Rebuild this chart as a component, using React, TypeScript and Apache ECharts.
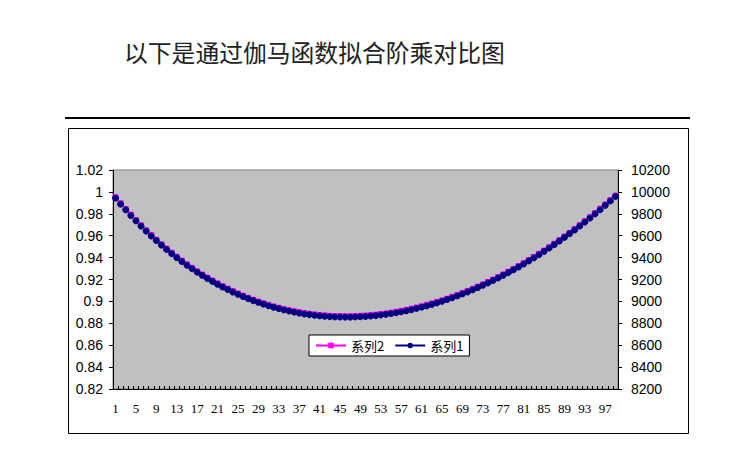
import * as echarts from 'echarts';
import { useEffect, useRef } from 'react';

const TITLE = '以下是通过伽马函数拟合阶乘对比图';

const categories = Array.from({ length: 99 }, (_, i) => String(i + 1));

// 系列2 (left axis)
const series2 = [
  0.9951, 0.9896, 0.9843, 0.9792, 0.9743, 0.9695, 0.9649, 0.9605, 0.9562, 0.9521,
  0.9482, 0.9444, 0.9407, 0.9372, 0.9338, 0.9306, 0.9275, 0.9245, 0.9217, 0.9190,
  0.9164, 0.9139, 0.9116, 0.9093, 0.9072, 0.9052, 0.9033, 0.9015, 0.8998, 0.8983,
  0.8968, 0.8954, 0.8942, 0.8930, 0.8919, 0.8910, 0.8901, 0.8893, 0.8887, 0.8881,
  0.8876, 0.8872, 0.8868, 0.8866, 0.8865, 0.8864, 0.8864, 0.8866, 0.8868, 0.8871,
  0.8874, 0.8879, 0.8884, 0.8890, 0.8897, 0.8905, 0.8913, 0.8923, 0.8933, 0.8944,
  0.8955, 0.8968, 0.8981, 0.8995, 0.9010, 0.9025, 0.9041, 0.9058, 0.9076, 0.9095,
  0.9114, 0.9134, 0.9155, 0.9177, 0.9199, 0.9222, 0.9246, 0.9271, 0.9296, 0.9322,
  0.9349, 0.9377, 0.9405, 0.9434, 0.9464, 0.9495, 0.9527, 0.9559, 0.9592, 0.9626,
  0.9661, 0.9696, 0.9732, 0.9769, 0.9807, 0.9846, 0.9885, 0.9925, 0.9966,
];

// 系列1 (right axis)
const series1 = [
  9943, 9888, 9836, 9784, 9735, 9687, 9642, 9597, 9555, 9514,
  9474, 9436, 9399, 9364, 9330, 9298, 9267, 9237, 9209, 9182,
  9156, 9131, 9108, 9085, 9064, 9044, 9025, 9007, 8990, 8975,
  8960, 8946, 8934, 8922, 8912, 8902, 8893, 8885, 8879, 8873,
  8868, 8864, 8860, 8858, 8857, 8856, 8856, 8858, 8860, 8862,
  8866, 8870, 8876, 8882, 8889, 8896, 8905, 8914, 8924, 8935,
  8947, 8959, 8972, 8986, 9001, 9017, 9033, 9050, 9068, 9086,
  9106, 9126, 9147, 9168, 9191, 9214, 9238, 9262, 9288, 9314,
  9341, 9369, 9397, 9426, 9456, 9487, 9518, 9551, 9584, 9618,
  9652, 9688, 9724, 9761, 9799, 9837, 9877, 9917, 9958,
];

const leftTicks = { min: 0.82, max: 1.02, interval: 0.02 };
const rightTicks = { min: 8200, max: 10200, interval: 200 };

export default function App() {
  const chartRef = useRef<HTMLDivElement>(null);

  useEffect(() => {
    if (!chartRef.current) return;
    const chart = echarts.init(chartRef.current, null, { renderer: 'svg' });

    const numFont = 'Liberation Sans, Arial, sans-serif';
    const cjkFont = '"Noto Sans CJK SC", sans-serif';

    chart.setOption({
      animation: false,
      backgroundColor: '#fff',
      graphic: [
        {
          type: 'text',
          left: 124,
          top: 40,
          style: { text: TITLE, fontSize: 23.8, fontFamily: cjkFont, fill: '#222' },
        },
        {
          type: 'line',
          shape: { x1: 65, y1: 118, x2: 690, y2: 118 },
          style: { stroke: '#000', lineWidth: 2 },
        },
        {
          type: 'rect',
          shape: { x: 68.5, y: 128.5, width: 620, height: 305 },
          style: { stroke: '#000', lineWidth: 1, fill: 'none' },
          z: -1,
        },
      ],
      grid: {
        left: 113,
        right: 126,
        top: 170,
        bottom: 64,
        show: true,
        backgroundColor: '#C0C0C0',
        borderColor: '#808080',
        borderWidth: 1,
      },
      legend: {
        data: ['系列2', '系列1'],
        left: 309,
        top: 335,
        orient: 'horizontal',
        backgroundColor: '#fff',
        borderColor: '#000',
        borderWidth: 1,
        borderRadius: 0,
        padding: [4, 6, 4, 6],
        itemWidth: 30,
        itemHeight: 7,
        itemGap: 10,
        textStyle: { fontSize: 13, fontFamily: cjkFont, color: '#000' },
      },
      xAxis: {
        type: 'category',
        data: categories,
        boundaryGap: true,
        axisLine: { lineStyle: { color: '#000', width: 1 } },
        axisTick: { show: true, inside: true, length: 3, interval: 0, lineStyle: { color: '#000' } },
        axisLabel: { interval: 3, margin: 13, fontSize: 13, fontFamily: 'Liberation Serif, serif', color: '#000' },
        splitLine: { show: false },
      },
      yAxis: [
        {
          type: 'value',
          position: 'left',
          ...leftTicks,
          axisLine: { show: true, lineStyle: { color: '#000' } },
          axisTick: { show: true, length: 4, lineStyle: { color: '#000' } },
          axisLabel: {
            margin: 10,
            fontSize: 14,
            fontFamily: numFont,
            color: '#000',
            formatter: (v: number) => String(+v.toFixed(2)),
          },
          splitLine: { show: false },
        },
        {
          type: 'value',
          position: 'right',
          ...rightTicks,
          axisLine: { show: true, lineStyle: { color: '#000' } },
          axisTick: { show: true, length: 4, lineStyle: { color: '#000' } },
          axisLabel: {
            margin: 13,
            fontSize: 14,
            fontFamily: numFont,
            color: '#000',
            formatter: (v: number) => String(v),
          },
          splitLine: { show: false },
        },
      ],
      series: [
        {
          name: '系列2',
          type: 'line',
          yAxisIndex: 0,
          data: series2,
          showAllSymbol: true,
          symbol: 'rect',
          symbolSize: 5,
          lineStyle: { color: '#FF00FF', width: 1 },
          itemStyle: { color: '#FF00FF', borderColor: '#FF00FF' },
        },
        {
          name: '系列1',
          type: 'line',
          yAxisIndex: 1,
          data: series1,
          showAllSymbol: true,
          symbol: 'circle',
          symbolSize: 6,
          lineStyle: { color: '#000080', width: 1 },
          itemStyle: { color: '#000080', borderColor: '#000080' },
        },
      ],
    });

    return () => chart.dispose();
  }, []);

  return (
    <div
      ref={chartRef}
      style={{ position: 'absolute', left: 0, top: 0, width: 744, height: 453 }}
    />
  );
}
